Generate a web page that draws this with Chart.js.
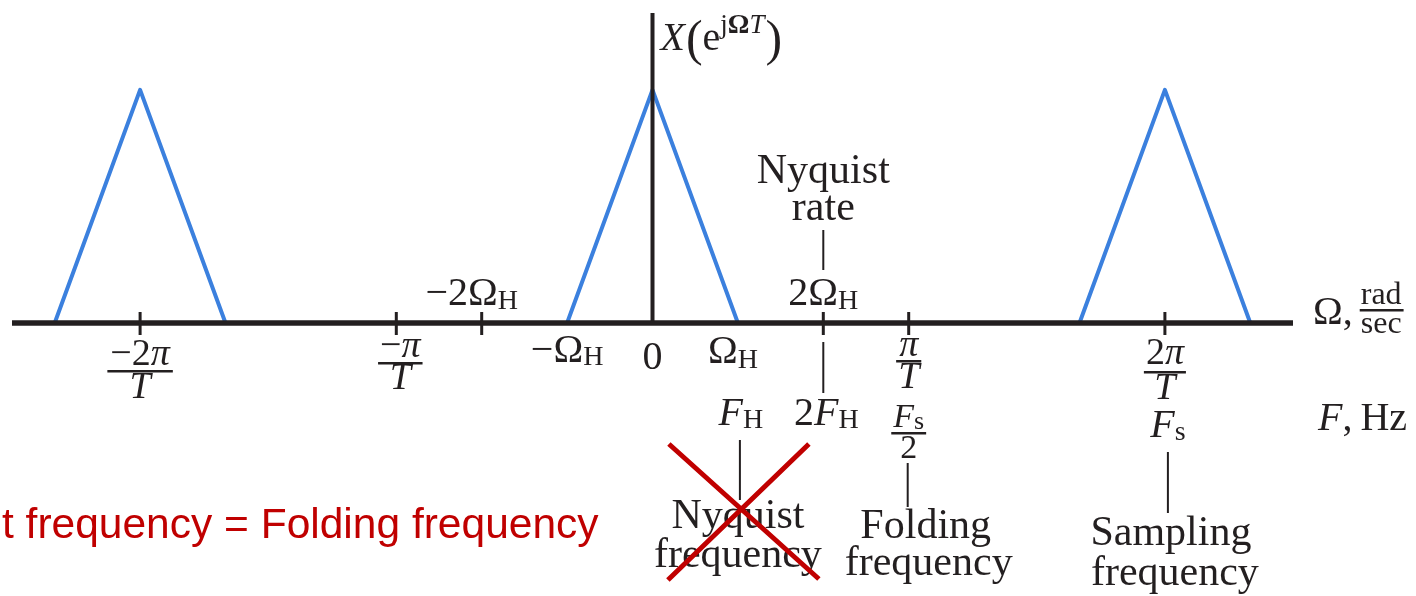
<!DOCTYPE html>
<html>
<head>
<meta charset="utf-8">
<title>Sampled spectrum</title>
<script src="https://cdn.jsdelivr.net/npm/chart.js@4"></script>
<style>
  html, body { margin: 0; padding: 0; background: #fff; }
  canvas { display: block; }
</style>
</head>
<body>
<canvas id="spectrum" width="1416" height="596"></canvas>
<script>
// Omega in units of pi/T, so Omega_H = 1/3 and 2*Omega_H = 2/3
const leftCopyX = [-7 / 3, -2, -5 / 3];
const baseCopyX = [-1 / 3, 0, 1 / 3];
const rightCopyX = [5 / 3, 2, 7 / 3];
const copyY = [0, 1, 0];

const axisTicks = [-2, -1, -2 / 3, 2 / 3, 1, 2];
const omegaH = 1 / 3;

const INK = "#231f20";
const BLUE = "#3b80de";
const RED = "#c00000";
const SERIF = '"Liberation Serif", "DejaVu Serif", serif';
const R = size => `${size}px ${SERIF}`;
const I = size => `italic ${size}px ${SERIF}`;
const MINUS = "\u2212";

const toPoints = xs => xs.map((x, i) => ({ x, y: copyY[i] }));

function drawRich(ctx, parts, x, base, align) {
    let w = 0;
    parts.forEach(p => { ctx.font = p[1]; w += ctx.measureText(p[0]).width; });
    let cx = align === "left" ? x : x - w / 2;
    parts.forEach(p => {
        ctx.font = p[1];
        ctx.fillText(p[0], cx, base + (p[2] || 0));
        cx += ctx.measureText(p[0]).width;
    });
    return w;
}

function drawFrac(ctx, num, den, cx, barY, numGap, denGap, pad) {
    const wn = drawRich(ctx, num, cx, barY - numGap);
    const wd = drawRich(ctx, den, cx, barY + denGap);
    const half = Math.max(wn, wd) / 2 + pad;
    ctx.fillRect(cx - half, barY - 1, half * 2, 2.5);
}

function vline(ctx, x, y1, y2, w) {
    ctx.lineWidth = w;
    ctx.beginPath();
    ctx.moveTo(x, y1);
    ctx.lineTo(x, y2);
    ctx.stroke();
}

const annotations = {
    id: "spectrumAnnotations",
    afterDatasetsDraw(chart) {
        const { ctx, chartArea, scales: { x, y } } = chart;
        const px = v => x.getPixelForValue(v);
        const y0 = y.getPixelForValue(0);
        const xa = px(0);

        ctx.save();
        ctx.strokeStyle = INK;
        ctx.fillStyle = INK;
        ctx.textBaseline = "alphabetic";

        // frequency axis and magnitude axis
        ctx.lineWidth = 5.5;
        ctx.beginPath();
        ctx.moveTo(chartArea.left, y0);
        ctx.lineTo(chartArea.right, y0);
        ctx.stroke();
        vline(ctx, xa, chartArea.top, y0, 4);
        axisTicks.forEach(t => vline(ctx, px(t), y0 - 11, y0 + 12, 3));

        // X(e^{jΩT})
        let lx = xa + 8;
        ctx.font = I(40); ctx.fillText("X", lx, 50); lx += ctx.measureText("X").width + 1;
        ctx.font = R(50); ctx.fillText("(", lx, 55); lx += ctx.measureText("(").width;
        ctx.font = R(40); ctx.fillText("e", lx, 50); lx += ctx.measureText("e").width;
        lx += drawRich(ctx, [["j", R(27)], ["Ω", "bold " + R(27)], ["T", I(27)]], lx, 33, "left");
        ctx.font = R(50); ctx.fillText(")", lx + 1, 55);

        // Ω labels under the axis
        drawFrac(ctx, [[MINUS + "2", R(38)], ["π", I(38)]], [["T", I(38)]], px(-2), y0 + 48, 6, 27, 3);
        drawFrac(ctx, [[MINUS, R(38)], ["π", I(38)]], [["T", I(38)]], px(-1) + 4, y0 + 40, 6, 26, 2);
        drawRich(ctx, [[MINUS + "Ω", R(40)], ["H", R(28), 3]], px(-omegaH), y0 + 39);
        drawRich(ctx, [["0", R(40)]], px(0), y0 + 46);
        drawRich(ctx, [["Ω", R(40)], ["H", R(28), 5]], px(omegaH) - 5, y0 + 40);
        drawFrac(ctx, [["π", I(38)]], [["T", I(38)]], px(1), y0 + 38, 5, 27, 2);
        drawFrac(ctx, [["2", R(38)], ["π", I(38)]], [["T", I(38)]], px(2), y0 + 49, 8, 27, 2);

        // Ω labels above the axis
        drawRich(ctx, [[MINUS + "2Ω", R(40)], ["H", R(28), 4]], px(-2 * omegaH) - 10, y0 - 18);
        drawRich(ctx, [["2Ω", R(40)], ["H", R(28), 4]], px(2 * omegaH), y0 - 18);

        // axis names
        let ax = chartArea.right + 20;
        ctx.font = R(40); ctx.fillText("Ω,", ax, y0 + 1); ax += ctx.measureText("Ω,").width + 8;
        ctx.font = R(32);
        const wr = ctx.measureText("rad").width;
        ctx.fillText("rad", ax, y0 - 19);
        ctx.fillText("sec", ax, y0 + 10);
        ctx.fillRect(ax - 1, y0 - 14, wr + 3, 2.5);
        drawRich(ctx, [["F", I(40)], [",\u2009Hz", R(40)]], chartArea.right + 25, y0 + 107, "left");

        // F (Hz) labels
        drawRich(ctx, [["F", I(40)], ["H", R(28), 3]], px(omegaH) + 3, y0 + 102);
        drawRich(ctx, [["2", R(40)], ["F", I(40)], ["H", R(28), 3]], px(2 * omegaH) + 3, y0 + 102);
        drawFrac(ctx, [["F", I(34)], ["s", R(26), 2]], [["2", R(34)]], px(1), y0 + 110, 6, 25, 2);
        drawRich(ctx, [["F", I(40)], ["s", R(28), 3]], px(2) + 3, y0 + 114);

        // callouts
        const cx2 = px(2 * omegaH);
        drawRich(ctx, [["Nyquist", R(42)]], cx2, y0 - 140);
        drawRich(ctx, [["rate", R(42)]], cx2, y0 - 103);
        vline(ctx, cx2, y0 - 93, y0 - 53, 2);
        vline(ctx, cx2, y0 + 19, y0 + 70, 2);

        vline(ctx, px(omegaH) + 2, y0 + 117, y0 + 177, 2);
        drawRich(ctx, [["Nyquist", R(42)]], px(omegaH), y0 + 205);
        drawRich(ctx, [["frequency", R(42)]], px(omegaH), y0 + 244);

        vline(ctx, px(1) - 1, y0 + 140, y0 + 184, 2);
        drawRich(ctx, [["Folding", R(42)]], px(1) + 17, y0 + 215);
        drawRich(ctx, [["frequency", R(42)]], px(1) + 20, y0 + 252);

        vline(ctx, px(2) + 3, y0 + 129, y0 + 190, 2);
        drawRich(ctx, [["Sampling", R(42)]], px(2) + 6, y0 + 222);
        drawRich(ctx, [["frequency", R(42)]], px(2) + 10, y0 + 262);

        // crossed-out Nyquist frequency callout
        const fx = px(omegaH);
        ctx.strokeStyle = RED;
        ctx.lineWidth = 5;
        ctx.beginPath();
        ctx.moveTo(fx - 69, y0 + 121);
        ctx.lineTo(fx + 81, y0 + 256);
        ctx.moveTo(fx + 71, y0 + 121);
        ctx.lineTo(fx - 70, y0 + 257);
        ctx.stroke();

        ctx.fillStyle = RED;
        ctx.font = '42.5px "Liberation Sans", Arial, sans-serif';
        ctx.fillText("t frequency = Folding frequency", 2, y0 + 215);

        ctx.restore();
    }
};

const lineStyle = {
    borderColor: BLUE,
    borderWidth: 4,
    borderJoinStyle: "round",
    borderCapStyle: "round",
    pointRadius: 0,
    tension: 0,
    fill: false
};

new Chart(document.getElementById("spectrum"), {
    type: "line",
    data: {
        datasets: [
            { ...lineStyle, data: toPoints(leftCopyX) },
            { ...lineStyle, data: toPoints(baseCopyX) },
            { ...lineStyle, data: toPoints(rightCopyX) }
        ]
    },
    options: {
        responsive: false,
        animation: false,
        layout: { padding: { left: 12, right: 123, top: 13, bottom: 273 } },
        scales: {
            x: { type: "linear", min: -2.5, max: 2.5, display: false },
            y: { min: 0, max: 1.33, display: false }
        },
        plugins: { legend: { display: false }, tooltip: { enabled: false } }
    },
    plugins: [annotations]
});
</script>
</body>
</html>
